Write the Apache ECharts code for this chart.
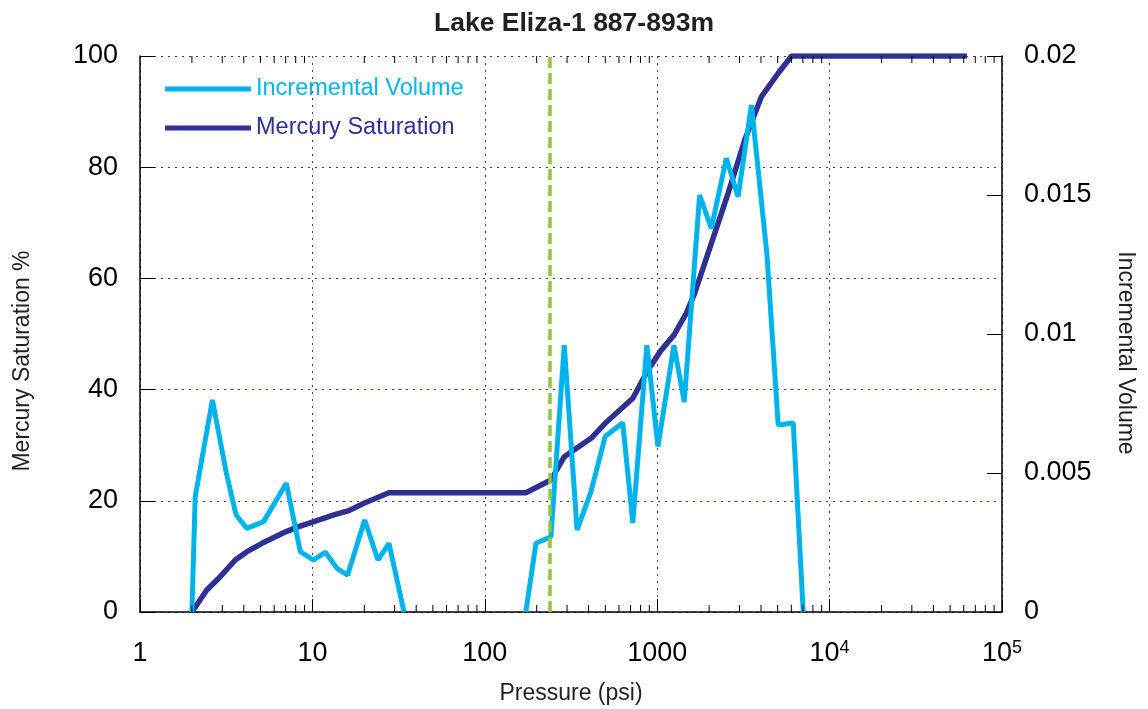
<!DOCTYPE html>
<html><head><meta charset="utf-8">
<script src="https://cdn.jsdelivr.net/npm/echarts@6/dist/echarts.min.js"></script>
<style>html,body{margin:0;padding:0;background:#fff}#c{width:1148px;height:709px}</style>
</head><body><div id="c"></div>
<script>
// ---- data ----
var titleText = 'Lake Eliza-1 887-893m';
var xTickValues = [1, 10, 100, 1000, 10000, 100000];
var leftTicks = [0, 20, 40, 60, 80, 100];
var rightTicks = [0, 0.005, 0.01, 0.015, 0.02];
var incPressure = [2.0, 2.09, 2.63, 3.17, 3.61, 4.17, 5.21, 7.06, 8.51, 10.1, 11.9, 13.9, 16.0, 20.1, 24.0, 27.8, 34.0, 77, 173, 198, 242, 289, 343, 413, 499, 631, 722, 871, 1010, 1250, 1435, 1762, 2061, 2518, 2946, 3521, 4333, 5033, 6152, 7031];
var incVolume = [0, 0.00414, 0.00763, 0.00499, 0.00349, 0.00301, 0.00325, 0.00463, 0.00217, 0.00187, 0.00215, 0.00157, 0.00133, 0.00331, 0.00187, 0.00247, 0, null, 0, 0.00247, 0.00271, 0.0096, 0.00295, 0.00433, 0.00631, 0.00681, 0.00321, 0.0096, 0.00595, 0.0096, 0.00755, 0.0150, 0.0138, 0.01632, 0.01494, 0.01824, 0.01284, 0.00673, 0.0068, 0];
var satPressure = [2.0, 2.44, 2.92, 3.57, 4.17, 5.10, 6.81, 8.33, 10.2, 13.3, 16.3, 19.9, 27.8, 173, 242, 289, 413, 499, 722, 883, 1055, 1250, 1474, 1648, 2061, 2577, 3220, 4025, 5033, 6013, 62600];
var satValue = [0, 3.96, 6.35, 9.35, 10.85, 12.35, 14.27, 15.35, 16.25, 17.45, 18.23, 19.55, 21.46, 21.46, 23.74, 27.93, 31.24, 33.94, 38.44, 43.5, 47.1, 49.8, 53.7, 57.3, 66.3, 75.3, 84.9, 92.7, 96.9, 100, 100];
var thresholdPressure = 239;
var minorMultipliers = [2, 3, 4, 5, 6, 7, 8, 9];
var minorDecades = [1, 10, 100, 1000, 10000];

var cLight = '#00b4eb', cDark = '#2e3192', cGreen = '#8dc63f';
var incData = incPressure.map(function (p, i) { return incVolume[i] === null ? [p, '-'] : [p, incVolume[i]]; });
var satData = satPressure.map(function (p, i) { return [p, satValue[i]]; });
var minorData = [];
minorDecades.forEach(function (d) { minorMultipliers.forEach(function (m) { minorData.push([d * m, 0]); }); });

var chart = echarts.init(document.getElementById('c'));
var font = 'Liberation Sans, Arial, sans-serif';
chart.setOption({
  animation: false,
  title: { text: titleText, left: 'center', top: 5, textStyle: { fontFamily: font, fontSize: 26.5, fontWeight: 'bold', color: '#231f20' } },
  legend: {
    orient: 'vertical', left: 160, top: 72, itemWidth: 86, itemHeight: 5, itemGap: 15, icon: 'rect',
    textStyle: { fontFamily: font, fontSize: 23.5 },
    data: [
      { name: 'Incremental Volume', textStyle: { color: cLight } },
      { name: 'Mercury Saturation', textStyle: { color: cDark } }
    ]
  },
  grid: { left: 140, right: 146, top: 56, bottom: 97, containLabel: false, outerBoundsMode: 'none' },
  xAxis: {
    type: 'log', logBase: 10, min: 1, max: 100000,
    name: 'Pressure (psi)', nameLocation: 'middle', nameGap: 70,
    nameTextStyle: { fontFamily: font, fontSize: 23, color: '#231f20' },
    axisLine: { onZero: false, lineStyle: { color: '#000', width: 1.5 } },
    axisTick: { inside: true, length: 13, lineStyle: { color: '#000' } },
    axisLabel: {
      margin: 27, color: '#000',
      formatter: function (v) {
        if (v >= 10000) return '{b|10}{sup|' + Math.round(Math.log10(v)) + '}';
        return '{b|' + v + '}';
      },
      rich: {
        b: { fontSize: 27, lineHeight: 30, fontFamily: font, color: '#000' },
        sup: { fontSize: 18, lineHeight: 12, verticalAlign: 'top', fontFamily: font, color: '#000' }
      }
    },
    splitLine: { show: true, lineStyle: { color: '#3b3ba8', type: [2, 5], width: 1 } }
  },
  yAxis: [
    {
      type: 'value', min: 0, max: 100, interval: 20, position: 'left',
      name: 'Mercury Saturation %', nameLocation: 'middle', nameGap: 106, nameRotate: 90,
      nameTextStyle: { fontFamily: font, fontSize: 23, color: '#231f20', padding: [0, 54, 0, 0] },
      axisLine: { show: true, lineStyle: { color: '#000', width: 1.5 } },
      axisTick: { show: true, inside: true, length: 15, lineStyle: { color: '#000' } },
      axisLabel: { fontFamily: font, fontSize: 27, color: '#000', margin: 22 },
      splitLine: { show: true, lineStyle: { color: '#3b3ba8', type: [2, 5], width: 1 } }
    },
    {
      type: 'value', min: 0, max: 0.02, interval: 0.005, position: 'right',
      name: 'Incremental Volume', nameLocation: 'middle', nameGap: 112, nameRotate: -90,
      nameTextStyle: { fontFamily: font, fontSize: 23, color: '#231f20', padding: [0, 0, 0, 38] },
      axisLine: { show: true, lineStyle: { color: '#000', width: 1.5 } },
      axisTick: { show: true, inside: true, length: 15, lineStyle: { color: '#000' } },
      axisLabel: { fontFamily: font, fontSize: 27, color: '#000', margin: 22,
        formatter: function (v) { return String(+v.toFixed(3)); } },
      splitLine: { show: false }
    }
  ],
  series: [
    {
      type: 'custom', name: 'minorTicks', yAxisIndex: 0, silent: true, z: 5,
      data: minorData,
      renderItem: function (params, api) {
        var b = api.coord([api.value(0), 0]);
        var t = api.coord([api.value(0), 100]);
        return { type: 'group', children: [
          { type: 'line', shape: { x1: b[0], y1: b[1], x2: b[0], y2: b[1] - 7 }, style: { stroke: '#000', lineWidth: 1 } },
          { type: 'line', shape: { x1: t[0], y1: t[1], x2: t[0], y2: t[1] + 7 }, style: { stroke: '#000', lineWidth: 1 } }
        ] };
      }
    },
    {
      type: 'line', name: 'Mercury Saturation', yAxisIndex: 0, data: satData,
      showSymbol: false, symbol: 'none', z: 3,
      lineStyle: { color: cDark, width: 5.5 }, itemStyle: { color: cDark }
    },
    {
      type: 'line', name: 'Incremental Volume', yAxisIndex: 1, data: incData,
      showSymbol: false, symbol: 'none', connectNulls: false, z: 4,
      lineStyle: { color: cLight, width: 5 }, itemStyle: { color: cLight },
      markLine: {
        silent: true, symbol: 'none', label: { show: false },
        lineStyle: { color: cGreen, width: 3.5, type: [11, 5] },
        data: [{ xAxis: thresholdPressure }]
      }
    }
  ]
});
</script></body></html>
